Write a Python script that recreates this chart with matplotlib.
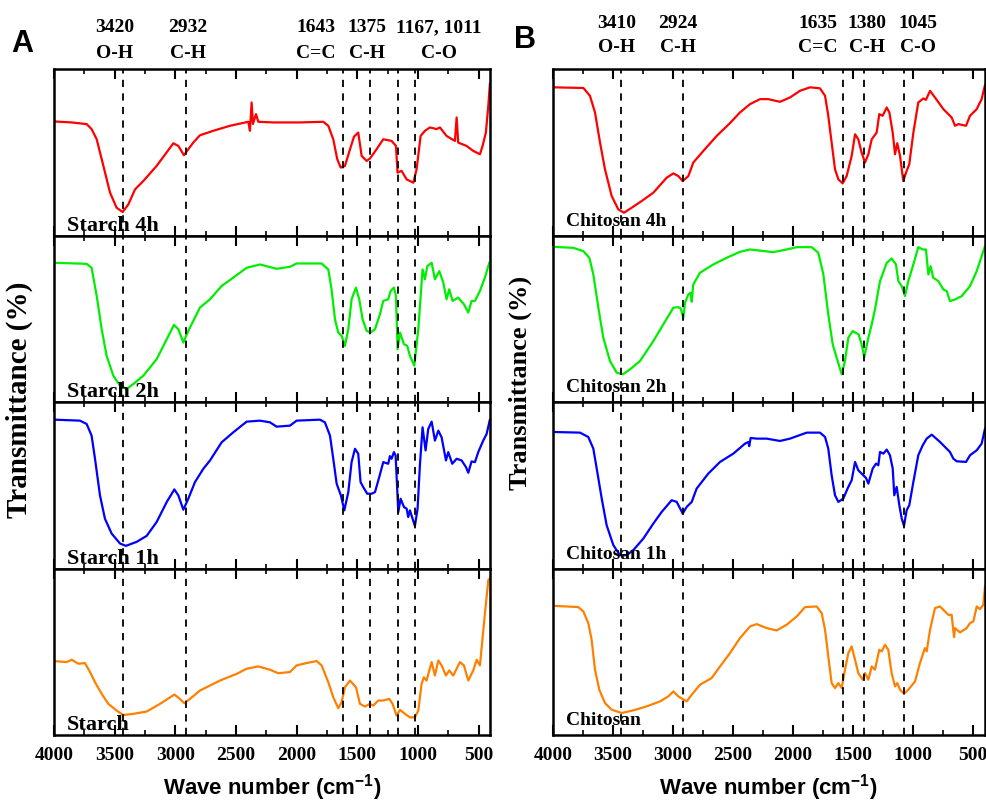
import numpy as np
import matplotlib
matplotlib.use("Agg")
import matplotlib.pyplot as plt
from matplotlib.ticker import MultipleLocator

plt.rcParams['font.family'] = ['Liberation Serif', 'DejaVu Serif']
plt.rcParams['font.weight'] = 'bold'
plt.rcParams['mathtext.fontset'] = 'custom'
plt.rcParams['mathtext.rm'] = 'Liberation Sans:bold'
plt.rcParams['mathtext.bf'] = 'Liberation Sans:bold'
plt.rcParams['mathtext.default'] = 'bf'

# ---- data (wave number, transmittance in arbitrary %) ----
starch4h_wn = [4000, 3854, 3731, 3690, 3648, 3593, 3538, 3484, 3434, 3387, 3332, 3264, 3154, 3016, 2975,
               2929, 2893, 2852, 2797, 2687, 2549, 2398, 2385, 2371, 2360, 2335, 2316, 2192, 1973, 1780,
               1739, 1698, 1665, 1637, 1602, 1560, 1527, 1492, 1464, 1423, 1396, 1341, 1286, 1217, 1181,
               1168, 1135, 1093, 1038, 1011, 978, 942, 901, 846, 819, 764, 695, 681, 668, 599, 544, 489,
               467, 440, 420, 407]
starch4h_t = [68.5, 67.9, 66.9, 63.9, 57.8, 41.8, 25.7, 16.7, 14.1, 18.7, 27.7, 32.7, 41.8, 55.4, 53.8,
              48.2, 51.8, 55.8, 60.2, 62.9, 65.9, 68.3, 62.9, 79.9, 67.0, 72.9, 68.3, 67.9, 67.9, 68.3,
              65.9, 57.8, 45.8, 40.8, 41.8, 51.8, 59.4, 61.8, 47.8, 44.8, 46.2, 51.8, 57.8, 56.8, 53.8,
              37.8, 38.8, 33.7, 31.7, 39.8, 59.8, 62.9, 64.9, 63.9, 64.9, 59.8, 56.8, 70.9, 55.8, 53.8,
              50.8, 48.8, 53.8, 61.8, 77.9, 91.0]

starch2h_wn = [4000, 3731, 3690, 3648, 3607, 3566, 3511, 3456, 3401, 3346, 3264, 3154, 3071, 3011, 2975,
               2934, 2893, 2797, 2714, 2618, 2522, 2412, 2302, 2165, 2055, 2000, 1794, 1739, 1712, 1684,
               1657, 1629, 1602, 1574, 1547, 1511, 1484, 1456, 1423, 1390, 1354, 1313, 1286, 1245, 1225,
               1198, 1181, 1168, 1148, 1115, 1088, 1066, 1030, 997, 962, 942, 923, 887, 860, 824, 791,
               764, 742, 714, 668, 621, 585, 558, 530, 489, 448, 412]
starch2h_t = [83.6, 83.0, 80.6, 63.7, 43.7, 27.7, 15.8, 9.8, 7.8, 10.8, 15.8, 25.7, 37.7, 46.3, 43.7,
              35.7, 42.7, 56.7, 61.7, 69.7, 74.7, 80.6, 82.6, 80.0, 81.2, 83.2, 83.2, 79.6, 67.7, 49.7,
              41.7, 39.7, 33.7, 43.7, 61.7, 68.7, 61.7, 49.7, 42.7, 41.7, 43.7, 52.7, 60.7, 61.7, 66.7,
              68.7, 63.7, 31.7, 41.7, 34.7, 33.7, 27.7, 21.8, 43.7, 79.6, 73.7, 81.6, 83.6, 73.7, 78.6,
              71.7, 61.7, 67.7, 60.7, 62.7, 58.7, 53.7, 60.7, 60.7, 66.7, 74.7, 83.6]

starch1h_wn = [4000, 3786, 3731, 3690, 3662, 3621, 3580, 3525, 3456, 3407, 3319, 3236, 3154, 3071, 3008,
               2975, 2934, 2893, 2838, 2769, 2714, 2618, 2522, 2412, 2302, 2220, 2165, 2055, 2000, 1808,
               1767, 1725, 1698, 1670, 1635, 1607, 1574, 1547, 1519, 1492, 1473, 1451, 1418, 1382, 1354,
               1319, 1286, 1245, 1231, 1217, 1198, 1184, 1162, 1143, 1115, 1093, 1080, 1066, 1025, 1003,
               984, 962, 937, 915, 887, 860, 832, 805, 769, 750, 717, 681, 640, 604, 585, 558, 530, 503,
               462, 434, 407]
starch1h_t = [89.4, 88.8, 86.8, 79.8, 65.9, 43.9, 29.9, 21.0, 15.0, 13.6, 16.0, 19.6, 27.9, 39.9, 47.5,
              43.9, 35.3, 41.9, 51.9, 59.9, 64.9, 75.8, 81.8, 88.2, 88.8, 87.8, 85.2, 85.8, 88.8, 89.4,
              87.8, 79.8, 65.9, 50.9, 43.9, 34.9, 45.9, 63.9, 71.9, 68.9, 51.9, 48.9, 44.9, 44.9, 45.9,
              54.9, 63.9, 62.9, 67.5, 65.9, 69.9, 67.9, 33.9, 41.9, 36.9, 35.9, 30.9, 34.9, 25.5, 35.9,
              61.9, 84.8, 70.9, 83.8, 88.2, 76.8, 82.8, 78.8, 64.9, 69.9, 62.9, 65.9, 64.9, 60.9, 57.5,
              64.3, 63.9, 69.9, 76.8, 80.8, 89.4]

starch_wn = [4000, 3896, 3854, 3799, 3745, 3703, 3662, 3607, 3552, 3484, 3429, 3346, 3236, 3126, 3008,
             2962, 2926, 2879, 2797, 2632, 2495, 2412, 2316, 2220, 2151, 2055, 2000, 1918, 1835, 1794,
             1739, 1698, 1657, 1629, 1602, 1560, 1511, 1478, 1437, 1396, 1368, 1327, 1286, 1236, 1209,
             1176, 1148, 1107, 1066, 1025, 997, 970, 951, 929, 887, 860, 832, 805, 769, 742, 709, 654,
             621, 585, 544, 516, 489, 448, 420, 407]
starch_t = [44.4, 43.8, 45.2, 42.8, 43.2, 37.8, 31.7, 24.7, 18.7, 14.7, 12.0, 12.7, 14.1, 18.7, 24.3,
            21.7, 19.1, 21.7, 26.7, 32.7, 36.7, 39.8, 41.2, 39.2, 37.1, 37.8, 41.8, 43.2, 44.4, 41.8,
            31.7, 22.7, 16.1, 19.7, 28.7, 32.7, 28.7, 18.7, 17.1, 18.7, 17.7, 20.7, 20.7, 21.7, 18.7,
            11.6, 15.1, 12.7, 10.6, 10.6, 14.7, 30.7, 34.7, 32.7, 43.8, 35.7, 44.8, 41.8, 35.7, 38.8,
            35.7, 43.8, 41.8, 32.7, 38.8, 45.2, 41.8, 72.9, 93.0, 94.0]

chito4h_wn = [4000, 3747, 3692, 3650, 3608, 3567, 3511, 3456, 3408, 3344, 3261, 3164, 3053, 2997, 2956,
              2919, 2872, 2831, 2747, 2636, 2525, 2442, 2358, 2275, 2206, 2108, 2025, 1942, 1858, 1775,
              1733, 1706, 1678, 1650, 1622, 1586, 1553, 1511, 1483, 1456, 1428, 1400, 1372, 1344, 1303,
              1281, 1253, 1219, 1197, 1169, 1150, 1131, 1108, 1081, 1058, 1031, 997, 956, 914, 892, 858,
              817, 747, 678, 650, 622, 558, 525, 469, 428, 400]
chito4h_t = [89.0, 88.6, 83.9, 73.9, 55.8, 39.8, 23.7, 15.7, 13.7, 16.7, 20.7, 25.7, 34.7, 37.3, 35.7,
             32.7, 35.7, 43.8, 50.8, 59.8, 67.5, 73.9, 78.9, 81.9, 81.9, 80.3, 82.9, 86.9, 89.0, 88.4,
             83.9, 71.9, 55.8, 39.8, 33.7, 31.3, 35.7, 47.8, 60.8, 57.8, 49.8, 43.8, 48.8, 57.8, 61.8,
             72.9, 71.9, 76.9, 73.9, 61.8, 48.8, 55.4, 47.8, 32.7, 37.8, 42.8, 61.8, 79.9, 82.3, 81.5,
             86.9, 82.9, 75.9, 70.9, 65.9, 66.9, 65.9, 71.9, 75.9, 81.9, 90.4]

chito2h_wn = [4000, 3831, 3747, 3697, 3664, 3622, 3581, 3525, 3469, 3419, 3358, 3275, 3164, 3081, 2997,
              2956, 2936, 2914, 2900, 2872, 2853, 2844, 2831, 2775, 2664, 2553, 2442, 2358, 2164, 2053,
              1969, 1844, 1789, 1747, 1706, 1669, 1636, 1594, 1567, 1539, 1503, 1453, 1428, 1406, 1372,
              1344, 1317, 1275, 1219, 1178, 1142, 1122, 1094, 1067, 1039, 997, 956, 919, 892, 872, 853,
              831, 789, 747, 719, 692, 650, 594, 525, 469, 400]
chito2h_t = [93.2, 92.6, 90.6, 86.6, 76.6, 56.6, 38.6, 24.6, 17.6, 16.6, 19.6, 24.6, 36.6, 46.6, 56.6,
             57.0, 56.2, 50.6, 59.6, 64.6, 65.6, 60.2, 70.6, 77.6, 82.6, 86.6, 90.2, 91.6, 90.0, 91.6,
             93.0, 93.0, 89.6, 76.6, 52.6, 34.6, 26.6, 16.6, 24.6, 38.6, 42.6, 40.6, 34.6, 27.0, 38.6,
             46.6, 55.6, 72.6, 83.6, 86.2, 82.6, 72.6, 69.6, 63.6, 72.6, 82.6, 93.0, 91.6, 91.6, 76.6,
             81.6, 74.6, 72.6, 67.6, 66.6, 60.6, 61.6, 63.6, 69.6, 78.6, 93.6]

chito1h_wn = [4000, 3775, 3706, 3664, 3631, 3594, 3553, 3497, 3442, 3386, 3331, 3247, 3164, 3094, 3011,
              2969, 2919, 2886, 2844, 2803, 2706, 2608, 2497, 2400, 2372, 2365, 2353, 2303, 2219, 2108,
              2025, 1886, 1775, 1733, 1706, 1678, 1650, 1622, 1581, 1539, 1511, 1483, 1456, 1428, 1392,
              1372, 1336, 1308, 1289, 1275, 1247, 1219, 1192, 1169, 1156, 1136, 1114, 1094, 1075, 1053,
              1031, 997, 956, 919, 886, 844, 775, 692, 664, 636, 558, 525, 469, 428, 400]
chito1h_t = [82.0, 81.6, 79.0, 72.0, 58.0, 42.0, 26.0, 14.0, 8.0, 8.0, 11.0, 18.0, 27.0, 34.0, 41.0,
             40.0, 33.0, 37.0, 40.0, 48.0, 57.0, 64.0, 69.0, 75.0, 76.0, 73.5, 78.4, 78.0, 78.0, 76.6,
             78.0, 81.6, 81.6, 79.0, 72.0, 56.0, 44.0, 40.0, 42.0, 49.0, 53.0, 64.0, 59.0, 57.0, 54.4,
             51.0, 60.0, 63.0, 62.0, 70.0, 69.0, 71.4, 68.0, 60.0, 44.0, 49.0, 38.0, 30.0, 25.6, 35.0,
             38.0, 52.0, 68.0, 74.0, 78.0, 80.4, 76.0, 70.0, 66.0, 64.4, 64.0, 68.0, 71.0, 75.0, 84.0]

chito_wn = [4000, 3886, 3789, 3747, 3706, 3678, 3650, 3614, 3567, 3511, 3428, 3331, 3219, 3108, 3039,
            2997, 2956, 2886, 2844, 2775, 2678, 2608, 2525, 2442, 2358, 2303, 2219, 2136, 2053, 1969,
            1900, 1803, 1761, 1733, 1706, 1678, 1650, 1622, 1594, 1567, 1539, 1511, 1483, 1456, 1419,
            1400, 1372, 1344, 1317, 1281, 1261, 1233, 1206, 1178, 1150, 1131, 1108, 1075, 1039, 983,
            942, 901, 886, 858, 817, 775, 706, 678, 658, 650, 608, 553, 525, 497, 469, 442, 414, 400]
chito_t = [77.6, 77.2, 76.8, 74.2, 67.2, 57.2, 39.2, 27.2, 19.2, 15.2, 13.2, 14.8, 17.2, 20.2, 23.2,
           26.2, 23.2, 20.2, 24.2, 30.2, 34.2, 41.2, 49.2, 58.2, 65.2, 66.6, 64.2, 62.8, 66.2, 71.2,
           76.8, 77.2, 73.2, 63.2, 47.2, 31.2, 28.2, 31.2, 28.2, 39.2, 49.2, 53.2, 45.2, 37.2, 33.2,
           37.2, 33.2, 41.2, 39.2, 51.2, 50.2, 54.2, 51.2, 37.2, 29.2, 31.2, 27.2, 24.8, 27.2, 32.2,
           43.2, 52.2, 50.2, 63.2, 76.2, 77.2, 72.2, 72.2, 58.8, 64.2, 61.6, 64.2, 67.2, 68.2, 77.2,
           75.6, 78.2, 89.2]

starch_names = ['Starch 4h', 'Starch 2h', 'Starch 1h', 'Starch']
chito_names = ['Chitosan 4h', 'Chitosan 2h', 'Chitosan 1h', 'Chitosan']
colors = ['#ff0000', '#00ee00', '#0000ff', '#ff8000']

starch_peaks = [3432, 2912, 1620, 1396, 1166, 1026]
chito_peaks = [3434, 2914, 1586, 1408, 1075]
starch_top = [('3420', 'O-H', 115), ('2932', 'C-H', 188), ('1643', 'C=C', 316),
              ('1375', 'C-H', 367), ('1167, 1011', 'C-O', 439)]
chito_top = [('3410', 'O-H', 617), ('2924', 'C-H', 678), ('1635', 'C=C', 818),
             ('1380', 'C-H', 867), ('1045', 'C-O', 918)]

W, H = 987, 803
fig = plt.figure(figsize=(W / 100, H / 100), dpi=100)


def panel(x0, x1, xmin, series, names, peaks, lab_y, lab_size):
    top, bot = 70, 736
    h = (bot - top) / 4
    for i, ((wn, t), name) in enumerate(zip(series, names)):
        ytop = top + i * h
        ax = fig.add_axes([x0 / W, (H - ytop - h) / H, (x1 - x0) / W, h / H])
        ax.plot(wn, t, color=colors[i], lw=1.6, solid_joinstyle='round')
        for p in peaks:
            ax.axvline(p, color='black', lw=1.3, ls=(0, (4, 3.5)))
        ax.set_xlim(4000, xmin)
        ax.set_ylim(0, 100)
        ax.set_yticks([])
        ax.xaxis.set_major_locator(MultipleLocator(500))
        ax.xaxis.set_minor_locator(MultipleLocator(250))
        ax.tick_params(axis='x', which='major', direction='in', length=7, width=1.5,
                       top=True, bottom=True, labelsize=14, pad=8)
        ax.tick_params(axis='x', which='minor', direction='in', length=3.5, width=1.2,
                       top=True, bottom=True)
        for s in ax.spines.values():
            s.set_linewidth(1.8)
        if i < 3:
            ax.set_xticklabels([])
        ax.text(0.03, lab_y, name, transform=ax.transAxes, fontsize=lab_size,
                fontweight='bold', va='baseline', ha='left')


panel(54, 490, 406,
      [(starch4h_wn, starch4h_t), (starch2h_wn, starch2h_t),
       (starch1h_wn, starch1h_t), (starch_wn, starch_t)],
      starch_names, starch_peaks, 0.035, 16)
panel(553, 985, 400,
      [(chito4h_wn, chito4h_t), (chito2h_wn, chito2h_t),
       (chito1h_wn, chito1h_t), (chito_wn, chito_t)],
      chito_names, chito_peaks, 0.065, 14)

for num, bond, x in starch_top:
    fig.text(x / W, 1 - 28 / H, num, ha='center', va='center', fontsize=14, fontweight='bold')
    fig.text(x / W, 1 - 53 / H, bond, ha='center', va='center', fontsize=14, fontweight='bold')
for num, bond, x in chito_top:
    fig.text(x / W, 1 - 23 / H, num, ha='center', va='center', fontsize=14, fontweight='bold')
    fig.text(x / W, 1 - 48 / H, bond, ha='center', va='center', fontsize=14, fontweight='bold')

fig.text(22 / W, 1 - 44 / H, 'A', ha='center', va='center', fontsize=22,
         fontweight='bold', family='Liberation Sans')
fig.text(525 / W, 1 - 40 / H, 'B', ha='center', va='center', fontsize=22,
         fontweight='bold', family='Liberation Sans')

fig.text(19 / W, 1 - 400 / H, 'Transmittance (%)', rotation=90, ha='center', va='center',
         fontsize=21, fontweight='bold')
fig.text(520 / W, 1 - 383 / H, 'Transmittance (%)', rotation=90, ha='center', va='center',
         fontsize=19, fontweight='bold')

fig.text(272 / W, 1 - 788 / H, r'Wave number (cm$^{-1}$)', ha='center', va='center',
         fontsize=16, fontweight='bold', family='Liberation Sans')
fig.text(768 / W, 1 - 788 / H, r'Wave number (cm$^{-1}$)', ha='center', va='center',
         fontsize=16, fontweight='bold', family='Liberation Sans')

fig.savefig('out.png', dpi=100)
